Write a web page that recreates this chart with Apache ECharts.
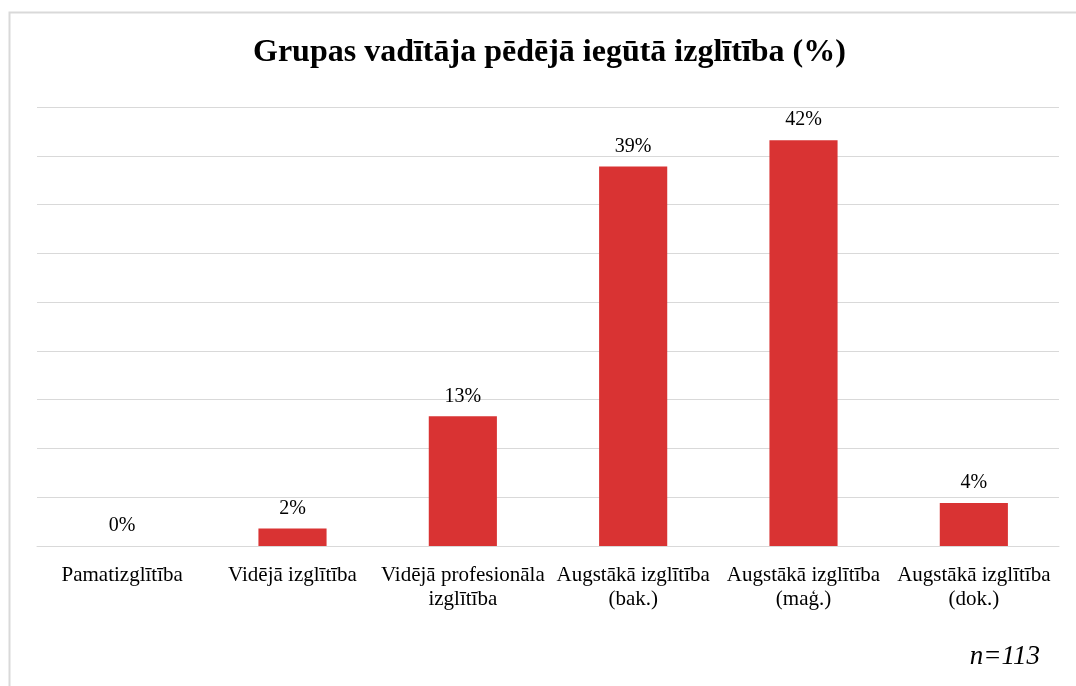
<!DOCTYPE html>
<html>
<head>
<meta charset="utf-8">
<script src="https://cdn.jsdelivr.net/npm/echarts@6/dist/echarts.min.js"></script>
<style>
html,body{margin:0;padding:0;background:#fff;}
#chart{width:1076px;height:686px;}
</style>
</head>
<body>
<div id="chart"></div>
<script>
// kategorijas un vērtības (%), n=113
var categories = ['Pamatizglītība', 'Vidējā izglītība', 'Vidējā profesionāla\nizglītība', 'Augstākā izglītība\n(bak.)', 'Augstākā izglītība\n(maģ.)', 'Augstākā izglītība\n(dok.)'];
var values = [0, 1.8, 13.3, 38.9, 41.6, 4.4];
var titleText = 'Grupas vadītāja pēdējā iegūtā izglītība (%)';
var noteText = 'n=113';

var serif = '"Liberation Serif", "DejaVu Serif", serif';
var myChart = echarts.init(document.getElementById('chart'));

var option = {
    backgroundColor: '#fff',
    animation: false,
    title: {
        text: titleText,
        left: 248,
        top: 32,
        textStyle: {
            fontFamily: serif,
            fontWeight: 'bold',
            fontSize: 32,
            color: '#000'
        }
    },
    grid: {
        left: 37,
        right: 17,
        top: 107,
        bottom: 140,
        containLabel: false
    },
    xAxis: {
        type: 'category',
        data: categories,
        axisTick: {show: false},
        axisLine: {lineStyle: {color: '#d9d9d9', width: 1}},
        axisLabel: {
            interval: 0,
            margin: 17,
            fontFamily: serif,
            fontSize: 21,
            lineHeight: 24,
            color: '#000'
        }
    },
    yAxis: {
        type: 'value',
        min: 0,
        max: 45,
        interval: 5,
        axisLabel: {show: false},
        axisLine: {show: false},
        axisTick: {show: false},
        splitLine: {lineStyle: {color: '#d9d9d9', width: 1}}
    },
    series: [{
        type: 'bar',
        data: values,
        barWidth: '40%',
        itemStyle: {color: '#d93333'},
        label: {
            show: true,
            position: 'top',
            distance: 10,
            fontFamily: serif,
            fontSize: 20,
            color: '#000',
            formatter: function(p){
                return Math.round(p.value) + '%';
            }
        }
    }],
    graphic: [{
        type: 'rect',
        left: 7,
        top: 10,
        shape: {width: 1090, height: 700},
        style: {fill: 'none', stroke: '#d9d9d9', lineWidth: 2},
        silent: true
    }, {
        type: 'text',
        right: 36,
        top: 643,
        style: {
            text: noteText,
            fontFamily: serif,
            fontStyle: 'italic',
            fontSize: 27,
            fill: '#000'
        }
    }]
};

myChart.setOption(option);
</script>
</body>
</html>
